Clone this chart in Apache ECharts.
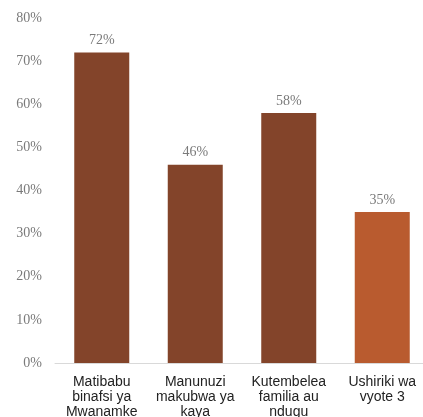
<!DOCTYPE html>
<html>
<head>
<meta charset="utf-8">
<script src="https://cdn.jsdelivr.net/npm/echarts@6/dist/echarts.min.js"></script>
<style>
    html, body { margin: 0; padding: 0; background: #fff; }
    #bar_chart { width: 423px; height: 417px; }
</style>
</head>
<body>
<div id="bar_chart"></div>
<script>
// Chart data
var categories = ['Matibabu\nbinafsi ya\nMwanamke', 'Manunuzi\nmakubwa ya\nkaya', 'Kutembelea\nfamilia au\nndugu', 'Ushiriki wa\nvyote 3'];
var values = [72, 46, 58, 35];
var barColors = ['#83442a', '#83442a', '#83442a', '#b95b2f'];

document.addEventListener('DOMContentLoaded', function() {
    var bar_element = document.getElementById('bar_chart');
    var bar_chart = echarts.init(bar_element);

    bar_chart.setOption({
        animation: false,

        // Setup grid
        grid: {
            left: 55,
            width: 374,
            top: 18,
            bottom: 54,
            outerBoundsMode: 'none'
        },

        // Horizontal axis
        xAxis: {
            type: 'category',
            data: categories,
            axisTick: { show: false },
            axisLine: {
                lineStyle: { color: '#d9d9d9', width: 1 }
            },
            axisLabel: {
                color: '#222',
                fontFamily: 'Liberation Sans, Arial, sans-serif',
                fontSize: 14,
                lineHeight: 15,
                margin: 12,
                interval: 0
            }
        },

        // Vertical axis
        yAxis: {
            type: 'value',
            min: 0,
            max: 80,
            interval: 10,
            axisLine: { show: false },
            axisTick: { show: false },
            splitLine: { show: false },
            axisLabel: {
                formatter: '{value}%',
                color: '#7a7a7a',
                fontFamily: 'Liberation Serif, Times New Roman, serif',
                fontSize: 14,
                margin: 13
            }
        },

        // Add series
        series: [{
            type: 'bar',
            barWidth: 55,
            data: values.map(function(v, i) {
                return { value: v, itemStyle: { color: barColors[i] } };
            }),
            label: {
                show: true,
                position: 'top',
                distance: 5,
                formatter: '{c}%',
                color: '#7a7a7a',
                fontFamily: 'Liberation Serif, Times New Roman, serif',
                fontSize: 14
            }
        }]
    });
});
</script>
</body>
</html>
